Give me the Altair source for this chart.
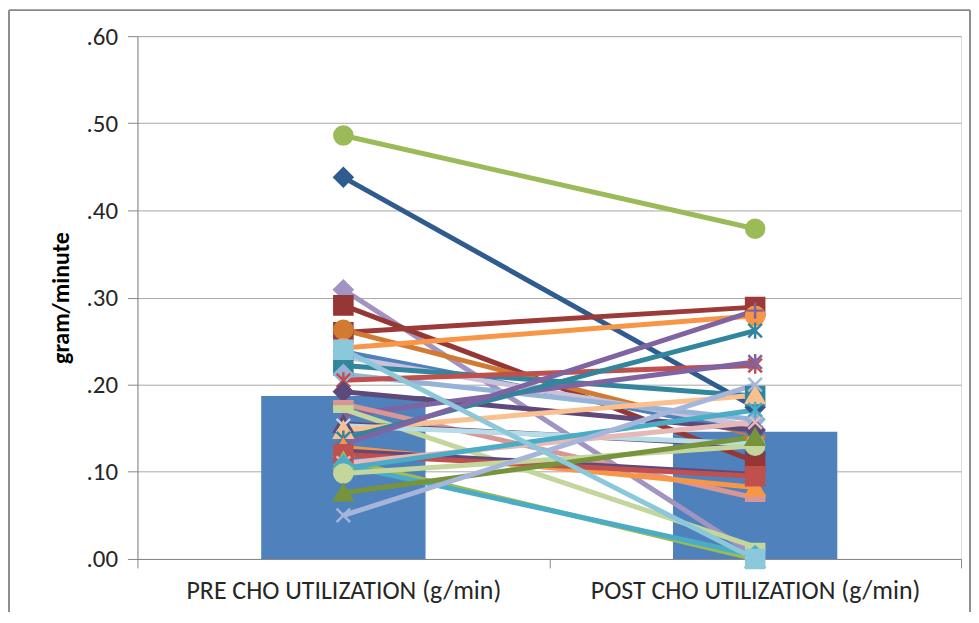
import altair as alt
import pandas as pd

categories = ["PRE CHO UTILIZATION (g/min)", "POST CHO UTILIZATION (g/min)"]
bar_means = [0.187, 0.146]

pre_values = [0.486, 0.438, 0.309, 0.291, 0.260, 0.263, 0.242, 0.238, 0.232,
              0.222, 0.212, 0.205, 0.192, 0.165, 0.178, 0.172, 0.155, 0.153, 0.148,
              0.138, 0.132, 0.128, 0.124, 0.120, 0.113, 0.110, 0.108, 0.104, 0.098,
              0.076, 0.050, 0.240]
post_values = [0.379, 0.174, 0.004, 0.112, 0.289, 0.142, 0.279, 0.145, 0.152,
               0.187, 0.160, 0.222, 0.148, 0.226, 0.070, 0.014, 0.130, 0.132, 0.188,
               0.262, 0.285, 0.082, 0.097, 0.095, 0.000, 0.157, 0.004, 0.171, 0.130,
               0.140, 0.200, 0.000]
series_colors = ["#9BBB59", "#2F5B8E", "#A193C2", "#953735", "#9B3A38", "#D07A32", "#F79646",
                 "#4F81BD", "#CCC1DA", "#31859C", "#95B3D7", "#C0504D", "#5F497A",
                 "#8064A2", "#D99694", "#C3D69B", "#604A7B", "#B7DEE8", "#FAC090", "#31859C",
                 "#8064A2", "#F79646", "#604A7B", "#C0504D", "#9BBB59", "#E6B9B8", "#4BACC6",
                 "#4BACC6", "#C3D69B", "#77933C", "#A6B6DB", "#8CC8DB"]

X_PATH = "M-0.75,-0.75L0.75,0.75M-0.75,0.75L0.75,-0.75"
STAR_PATH = "M-0.75,-0.75L0.75,0.75M-0.75,0.75L0.75,-0.75M0,-0.9L0,0.9"
PLUS_PATH = "M-0.9,0L0.9,0M0,-0.9L0,0.9"
DASH_PATH = "M-1,-0.3L1,-0.3L1,0.3L-1,0.3Z"
series_shapes = ["circle", "diamond", "diamond", "square", "square", "circle", "circle",
                 "diamond", "plus", "square", "diamond", "star", "diamond",
                 "star", "dash", "dash", "triangle-up", "x", "triangle-up", "star",
                 "plus", "triangle-up", "x", "square", "triangle-up", "x", "diamond",
                 "star", "circle", "triangle-up", "x", "square"]
shape_map = {"x": X_PATH, "star": STAR_PATH, "plus": PLUS_PATH, "dash": DASH_PATH}

subjects = [f"S{i+1:02d}" for i in range(len(pre_values))]
rows = []
for i, s in enumerate(subjects):
    rows.append({"subject": s, "phase": categories[0], "value": pre_values[i], "order": 0})
    rows.append({"subject": s, "phase": categories[1], "value": post_values[i], "order": 1})
df = pd.DataFrame(rows)
bars = pd.DataFrame({"phase": categories, "value": bar_means})

shapes_range = [shape_map.get(sh, sh) for sh in series_shapes]

FONT = "Carlito, Calibri, Lato, sans-serif"
W, H = 827, 525
PAD_L, PAD_T, PAD_R, PAD_B = 130, 27, 10, 52

x_enc = alt.X("phase:N", sort=categories, title=None,
              scale=alt.Scale(domain=categories, paddingInner=0, paddingOuter=0),
              axis=alt.Axis(labelAngle=0, labelFontSize=26, labelColor="#262626",
                            labelFont=FONT, labelLimit=600, tickBand="extent", tickSize=9,
                            tickColor="#868686", domainColor="#868686",
                            labelPadding=10, grid=False))
y_enc = alt.Y("value:Q", title="gram/minute",
              scale=alt.Scale(domain=[0, 0.6], nice=False),
              axis=alt.Axis(values=[0, 0.1, 0.2, 0.3, 0.4, 0.5, 0.6],
                            labelExpr="replace(format(datum.value, '.2f'), '0.', '.')",
                            labelFontSize=25, labelColor="#262626", labelFont=FONT,
                            tickSize=10, tickColor="#868686", domainColor="#868686",
                            gridColor="#A6A6A6", labelPadding=10,
                            titleFont=FONT, titleFontSize=24, titleFontWeight="bold",
                            titleColor="#000000", titleX=-76, titleY=H / 2,
                            titleBaseline="middle", titleAngle=270))

bar_layer = alt.Chart(bars).mark_bar(size=165, color="#4F81BD").encode(x=x_enc, y=y_enc)

color_scale = alt.Scale(domain=subjects, range=series_colors)
line_layer = alt.Chart(df).mark_line(strokeWidth=5).encode(
    x=alt.X("phase:N", sort=categories),
    y="value:Q",
    color=alt.Color("subject:N", scale=color_scale, legend=None),
    order="order:Q",
)
point_layer = alt.Chart(df).mark_point(filled=True, opacity=1, size=330, strokeWidth=2.5).encode(
    x=alt.X("phase:N", sort=categories),
    y="value:Q",
    fill=alt.Fill("subject:N", scale=color_scale, legend=None),
    stroke=alt.Stroke("subject:N", scale=color_scale, legend=None),
    shape=alt.Shape("subject:N", scale=alt.Scale(domain=subjects, range=shapes_range), legend=None),
)

frame_left = alt.Chart(bars).mark_rule(color="#878787", strokeWidth=1.5).encode(
    x=alt.value(-PAD_L + 1), y=alt.value(-PAD_T + 1), y2=alt.value(H + PAD_B + 20))
frame_top = alt.Chart(bars).mark_rule(color="#878787", strokeWidth=1.5).encode(
    x=alt.value(-PAD_L + 1), x2=alt.value(W + PAD_R - 1), y=alt.value(-PAD_T + 1))
frame_right = alt.Chart(bars).mark_rule(color="#878787", strokeWidth=1.5).encode(
    x=alt.value(W + PAD_R - 1), y=alt.value(-PAD_T + 1), y2=alt.value(H + PAD_B + 20))

chart = alt.layer(bar_layer, line_layer, point_layer, frame_left, frame_top, frame_right).properties(
    width=W, height=H,
    autosize=alt.AutoSizeParams(type="none"),
    padding={"left": PAD_L, "top": PAD_T, "right": PAD_R, "bottom": PAD_B},
).configure_view(stroke=None).configure(background="white")

chart.save("out.html", embed_options={"renderer": "svg", "actions": False})
